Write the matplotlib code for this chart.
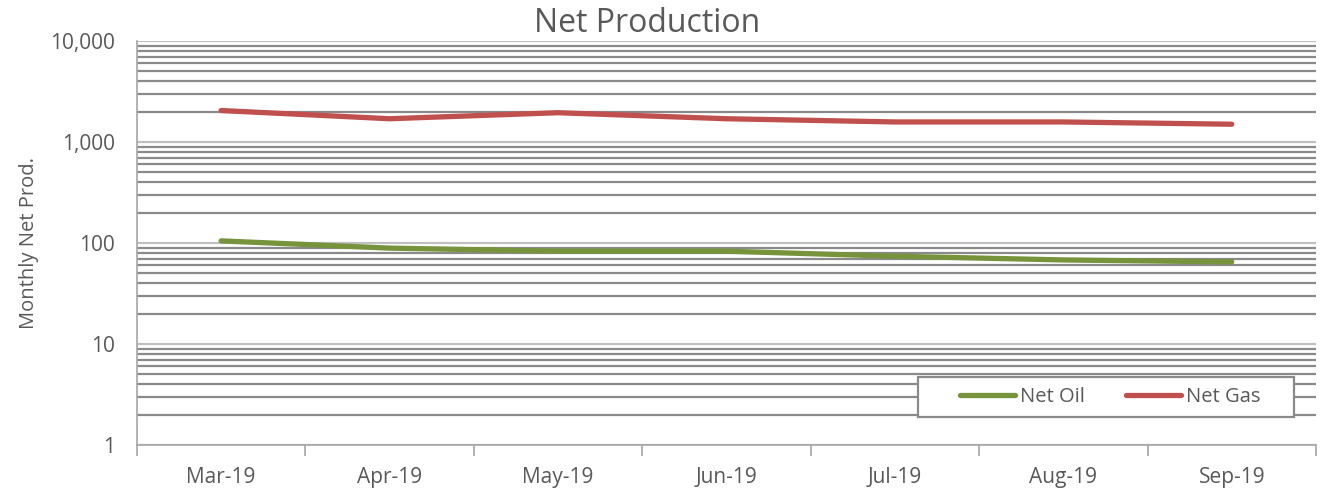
import matplotlib.pyplot as plt
from matplotlib.patches import Rectangle
from matplotlib.ticker import FixedLocator, LogLocator, NullFormatter, FuncFormatter

plt.rcParams['font.family'] = ['Open Sans', 'DejaVu Sans']

months = ["Mar-19", "Apr-19", "May-19", "Jun-19", "Jul-19", "Aug-19", "Sep-19"]
net_oil = [105, 89, 83, 83, 74, 68, 65]
net_gas = [2050, 1700, 1950, 1700, 1580, 1580, 1500]

fig = plt.figure(figsize=(13.27, 4.9), dpi=100)
ax = fig.add_axes([0.1032, 0.0918, 0.8885, 0.8245])

x = range(len(months))
ax.plot(x, net_oil, color="#77933C", lw=3.8, solid_capstyle="round", label="Net Oil", zorder=3)
ax.plot(x, net_gas, color="#C0504D", lw=3.8, solid_capstyle="round", label="Net Gas", zorder=3)

ax.set_yscale("log")
ax.set_ylim(1, 10000)
ax.set_xlim(-0.5, len(months) - 0.5)

ax.yaxis.set_major_locator(FixedLocator([1, 10, 100, 1000, 10000]))
ax.yaxis.set_major_formatter(FuncFormatter(lambda v, p: f"{v:,.0f}"))
ax.yaxis.set_minor_locator(LogLocator(base=10, subs=range(2, 10)))
ax.yaxis.set_minor_formatter(NullFormatter())
ax.grid(which="major", axis="y", color="#c0c0c0", lw=1.6)
ax.grid(which="minor", axis="y", color="#8a8a8a", lw=1.6)
ax.tick_params(axis="y", which="both", length=0, labelsize=15, labelcolor="#595959", pad=16)

ax.set_xticks([i + 0.5 for i in range(-1, len(months))], minor=False)
ax.set_xticklabels([])
ax.set_xticks(list(x), minor=True)
ax.set_xticklabels(months, minor=True)
ax.tick_params(axis="x", which="major", length=8, color="#a6a6a6", width=1.2)
ax.tick_params(axis="x", which="minor", length=0, labelsize=15, labelcolor="#595959", pad=16)

for s in ["top", "right"]:
    ax.spines[s].set_visible(False)
for s in ["left", "bottom"]:
    ax.spines[s].set_color("#a6a6a6")
    ax.spines[s].set_linewidth(1.2)

ax.set_ylabel("Monthly Net Prod.", fontsize=14.5, color="#595959", labelpad=8)
fig.text(0.488, 1 - 24 / 490, "Net Production", fontsize=23, color="#595959", ha="center", va="center")

# legend box drawn separately so the padding matches
box = Rectangle((918 / 1327, 1 - 417 / 490), 376 / 1327, 40 / 490, transform=fig.transFigure,
                facecolor="white", edgecolor="#8a8a8a", lw=1.6, zorder=4)
ax.add_patch(box)
box.set_clip_on(False)

leg = ax.legend(loc="center left", bbox_to_anchor=(960 / 1327, 1 - 397 / 490), bbox_transform=fig.transFigure,
                borderaxespad=0, borderpad=0, ncol=2, fontsize=14.5, frameon=False, handlelength=2.75,
                handletextpad=0.25, columnspacing=2.0)
leg.set_zorder(5)
for t in leg.get_texts():
    t.set_color("#595959")

fig.savefig("out.png", dpi=100)
